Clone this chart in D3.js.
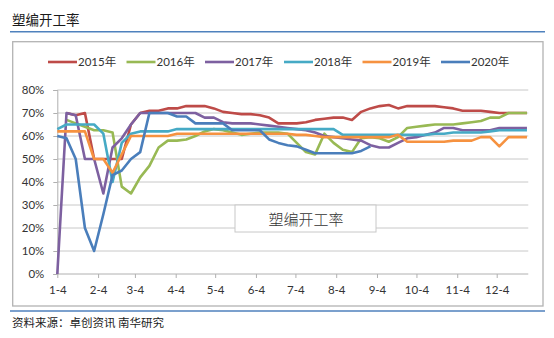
<!DOCTYPE html>
<html>
<head>
<meta charset="utf-8">
<script src="https://cdn.jsdelivr.net/npm/d3@7"></script>
<style>
  html, body { margin: 0; padding: 0; background: #fff; }
  svg { display: block; }
</style>
</head>
<body>
<svg id="chart" width="554" height="338"></svg>
<script>
// ---- data ----
const years = ["2015年", "2016年", "2017年", "2018年", "2019年", "2020年"];
const colors = ["#BE4B48", "#98B954", "#7D60A0", "#46AAC5", "#F69240", "#4A7EBB"];
const yTicks = [0, 10, 20, 30, 40, 50, 60, 70, 80];
const xTickLabels = ["1-4","2-4","3-4","4-4","5-4","6-4","7-4","8-4","9-4","10-4","11-4","12-4"];

const s2015 = [null,70,69,70,50,50,50,50,65,70, 71,71,72,72,73,73,73,72,70.5,70,
  69.5,69.5,69,68,65.5,65.5,65.5,66,67,67.5, 68,68,67,70.5,72,73,73.5,72,73,73,
  73,73,72.5,72,71,71,71,70.5,70,70, 70,70];
const s2016 = [null,67,65.5,64,62.5,62.5,61.5,38,35,42, 47,55,58,58,58.5,60,62,63,62.5,61.5,
  60.5,61,61.5,61.5,61.5,61,57,53,52,61, 57,54,53,59,59.5,59,57.5,59.5,63.5,64,
  64.5,65,65,65,65.5,66,66.5,68,68,70, 70,70];
const s2017 = [0,70,69,50,50,35,55,59,65,70, 70,70,70,70,70,70,68,68,66,65.5,
  65.5,65.5,65,64.5,64,63.5,63,62.5,61.5,60, 59.5,59,58.5,58,56,55,55,57,59,59.5,
  60.5,61.5,63.5,63.5,62.5,62.5,62.5,62.5,63.5,63.5, 63.5,63.5];
const s2018 = [63,65,65,65,65,61,40,57,61,62, 62,62,62,63,63,63,63,63,63,63,
  63,63,63,63,63,63,63,63,63,63, 63,60.5,60.5,60.5,60.5,60.5,60.5,60.5,60.5,60.5,
  60.5,61,61,61.5,61.5,61.5,61.5,62,62.5,62.5, 62.5,62.5];
const s2019 = [62,62,62,62,50,50,44,52,60,60, 60,60,60,61,61,61,61,61,61,61,
  61,61,61,61,61,61,60.5,60.5,60,59.5, 59.5,59.5,59.5,59.5,59.5,59.5,59.5,60.5,57.5,57.5,
  57.5,57.5,57.5,58,58,58,59.5,59.5,55.5,59.5, 59.5,59.5];
const s2020 = [60,59,50,20,10,26,43,45,50,53, 70,70,70,68.5,68.5,65.5,65.5,65.5,65.5,62.5,
  62.5,62.5,62.5,58.5,57,56,55.5,54,52.5,52.5, 52.5,52.5,52.5,53.5,55.5,
  null,null,null,null,null,null,null,null,null,null,null,null,null,null,null,null,null];
const seriesValues = [s2015, s2016, s2017, s2018, s2019, s2020];

// weekly categories starting Jan 4 (reference non-leap year)
const start = new Date(2019, 0, 4);
const weeks = d3.range(52).map(i => d3.timeDay.offset(start, 7 * i));

// ---- layout ----
const svg = d3.select("#chart");
const fontLatin = "Lato, 'Noto Sans CJK SC', sans-serif";
const fontCJK = "'Noto Sans CJK SC', sans-serif";

const plotLeft = 57.3, plotTop = 90, plotBottom = 274;
const x = d3.scaleTime()
  .domain([new Date(2019, 0, 4), new Date(2019, 11, 4)])
  .range([plotLeft, 496.7]);
const plotRight = x(new Date(2019, 11, 28));
const y = d3.scaleLinear().domain([0, 80]).range([plotBottom, plotTop]);

// title
svg.append("text").attr("x", 12).attr("y", 25)
  .attr("font-family", fontCJK).attr("font-size", 13.5).attr("fill", "#1a1a1a")
  .text("塑编开工率");
svg.append("line").attr("x1", 10).attr("x2", 545).attr("y1", 31.7).attr("y2", 31.7)
  .attr("stroke", "#4F81BD").attr("stroke-width", 1.5);

// frame
svg.append("rect").attr("x", 12.7).attr("y", 41.7).attr("width", 543 - 12.7).attr("height", 306 - 41.7)
  .attr("fill", "#fff").attr("stroke", "#b3b3b3").attr("stroke-width", 1.3);

// bottom rule + source
svg.append("line").attr("x1", 10).attr("x2", 545).attr("y1", 311).attr("y2", 311)
  .attr("stroke", "#4F81BD").attr("stroke-width", 1.5);
svg.append("text").attr("x", 12).attr("y", 327)
  .attr("font-family", fontCJK).attr("font-size", 11.5).attr("fill", "#222")
  .text("资料来源：卓创资讯 南华研究");

// gridlines
svg.append("g").selectAll("line").data(yTicks.filter(d => d > 0)).join("line")
  .attr("x1", plotLeft).attr("x2", plotRight)
  .attr("y1", d => y(d)).attr("y2", d => y(d))
  .attr("stroke", "#c8c8c8").attr("stroke-width", 1);

// y axis
const yAxis = svg.append("g").attr("transform", `translate(${plotLeft},0)`)
  .call(d3.axisLeft(y).tickValues(yTicks).tickFormat(d => d + "%").tickSize(4).tickPadding(9));
yAxis.select(".domain").attr("stroke", "#b0b0b0");
yAxis.selectAll(".tick line").attr("stroke", "#b0b0b0");
yAxis.selectAll("text").attr("font-family", fontLatin).attr("font-size", 11.5).attr("fill", "#333");

// x axis
const xTickDates = xTickLabels.map(s => { const [m, d] = s.split("-").map(Number); return new Date(2019, m - 1, d); });
const xAxis = svg.append("g").attr("transform", `translate(0,${plotBottom})`)
  .call(d3.axisBottom(x).tickValues(xTickDates).tickFormat((d, i) => xTickLabels[i]).tickSize(4).tickPadding(8).tickSizeOuter(0));
xAxis.select(".domain").attr("stroke", "#b0b0b0").attr("d", `M${plotLeft},0H${plotRight}`);
xAxis.selectAll(".tick line").attr("stroke", "#b0b0b0");
xAxis.selectAll("text").attr("font-family", fontLatin).attr("font-size", 11.5).attr("fill", "#333");

// inner label box
svg.append("rect").attr("x", 235).attr("y", 205).attr("width", 141).attr("height", 27)
  .attr("fill", "#fff").attr("stroke", "#c8c8c8").attr("stroke-width", 1);
svg.append("text").attr("x", 306).attr("y", 224.5).attr("text-anchor", "middle")
  .attr("font-family", fontCJK).attr("font-size", 15).attr("font-weight", 300).attr("fill", "#333")
  .text("塑编开工率");

// lines
const line = d3.line()
  .defined(d => d.v != null)
  .x(d => x(d.date))
  .y(d => y(d.v));
seriesValues.forEach((vals, k) => {
  const pts = vals.map((v, i) => ({ date: weeks[i], v }));
  svg.append("path").datum(pts)
    .attr("fill", "none").attr("stroke", colors[k]).attr("stroke-width", 2.6)
    .attr("stroke-linejoin", "round").attr("stroke-linecap", "butt")
    .attr("d", line);
});

// legend
const legendX = [48, 126.5, 205, 284, 362.5, 441];
const lg = svg.append("g");
years.forEach((name, k) => {
  lg.append("line").attr("x1", legendX[k]).attr("x2", legendX[k] + 29)
    .attr("y1", 62).attr("y2", 62).attr("stroke", colors[k]).attr("stroke-width", 2.6);
  lg.append("text").attr("x", legendX[k] + 30).attr("y", 66.3)
    .attr("font-family", fontLatin).attr("font-size", 11.5).attr("fill", "#333")
    .text(name);
});
</script>
</body>
</html>
